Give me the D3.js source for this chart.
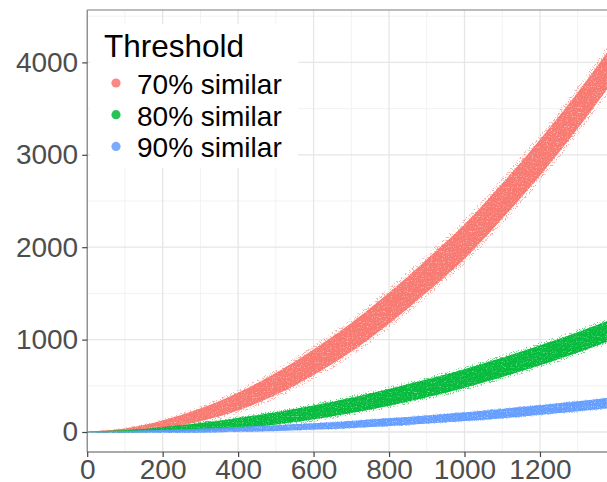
<!DOCTYPE html>
<html>
<head>
<meta charset="utf-8">
<script src="https://cdn.jsdelivr.net/npm/d3@7"></script>
<style>
  html, body { margin: 0; padding: 0; background: #fff; }
  svg { display: block; font-family: "Liberation Sans", Arial, Helvetica, sans-serif; }
</style>
</head>
<body>
<svg id="chart" width="607" height="482"></svg>
<script>
// ---- data ----
const seriesNames = ["70% similar", "80% similar", "90% similar"];
const seriesColors = ["#F8766D", "#00BA38", "#619CFF"];
const sampleX = [0, 100, 200, 300, 400, 500, 600, 700, 800, 900, 1000, 1100, 1200, 1300, 1400];
// centre of each point cloud
const center70 = [0, 20, 82, 185, 330, 520, 755, 1025, 1340, 1690, 2060, 2500, 2970, 3480, 4030];
const center80 = [0, 6, 25, 55, 96, 148, 212, 288, 375, 472, 580, 700, 830, 970, 1120];
const center90 = [0, 2, 7, 15, 27, 42, 60, 82, 107, 135, 165, 200, 238, 278, 322];
// vertical half-spread of the dense core of each cloud
const spread70 = [4, 18, 42, 68, 95, 118, 138, 155, 168, 178, 185, 190, 193, 195, 197];
const spread80 = [3, 12, 26, 42, 56, 66, 75, 83, 90, 96, 100, 104, 107, 110, 113];
const spread90 = [2, 8, 14, 20, 25, 30, 34, 38, 41, 44, 47, 50, 52, 54, 56];
// scattered outliers reach about this far from the centre
const outer70 = [6, 28, 60, 95, 130, 160, 185, 205, 222, 235, 245, 252, 258, 262, 265];
const outer80 = [4, 18, 36, 56, 74, 88, 100, 110, 118, 125, 130, 135, 139, 142, 145];
const outer90 = [3, 10, 18, 25, 31, 37, 42, 46, 50, 54, 57, 60, 63, 65, 67];
const xTicks = [0, 200, 400, 600, 800, 1000, 1200];
const xMinor = [100, 300, 500, 700, 900, 1100, 1300];
const yTicks = [0, 1000, 2000, 3000, 4000];
const yMinor = [500, 1500, 2500, 3500, 4500];
const legendTitle = "Threshold";

const centers = [center70, center80, center90];
const spreads = [spread70, spread80, spread90];
const outers = [outer70, outer80, outer90];

// ---- layout ----
const svg = d3.select("#chart");
const panel = { left: 87.2, top: 10, bottom: 452, right: 640 };
const x = d3.scaleLinear().domain([0, 1400]).range([87.2, 87.2 + 7 * 75.46]);
const y = d3.scaleLinear().domain([0, 4000]).range([432, 432 - 4 * 92.4]);

const defs = svg.append("defs");
defs.append("clipPath").attr("id", "clip")
  .append("rect")
  .attr("x", panel.left).attr("y", panel.top)
  .attr("width", panel.right - panel.left).attr("height", panel.bottom - panel.top);

function speckle(id, seed, freq, slope, offset) {
  const f = defs.append("filter").attr("id", id)
    .attr("filterUnits", "userSpaceOnUse")
    .attr("x", 0).attr("y", 0).attr("width", 607).attr("height", 482);
  f.append("feTurbulence").attr("type", "fractalNoise").attr("baseFrequency", freq)
    .attr("numOctaves", 1).attr("seed", seed).attr("result", "noise");
  f.append("feColorMatrix").attr("in", "noise").attr("type", "matrix")
    .attr("values", `0 0 0 0 0  0 0 0 0 0  0 0 0 0 0  ${slope} 0 0 0 ${offset}`).attr("result", "mask");
  f.append("feComposite").attr("in", "SourceGraphic").attr("in2", "mask").attr("operator", "in");
}
speckle("speckleOuter", 7, 0.75, 14, -7.6);
speckle("speckleCore", 11, 0.8, 6, -1.6);

// panel background
svg.append("rect").attr("x", panel.left).attr("y", panel.top)
  .attr("width", panel.right - panel.left).attr("height", panel.bottom - panel.top)
  .attr("fill", "#fff");

// grid
const grid = svg.append("g").attr("clip-path", "url(#clip)");
grid.selectAll(".xmin").data(xMinor).join("line")
  .attr("x1", d => x(d)).attr("x2", d => x(d))
  .attr("y1", panel.top).attr("y2", panel.bottom)
  .attr("stroke", "#f2f2f2").attr("stroke-width", 1);
grid.selectAll(".ymin").data(yMinor).join("line")
  .attr("y1", d => y(d)).attr("y2", d => y(d))
  .attr("x1", panel.left).attr("x2", panel.right)
  .attr("stroke", "#f2f2f2").attr("stroke-width", 1);
grid.selectAll(".xmaj").data(xTicks).join("line")
  .attr("x1", d => x(d)).attr("x2", d => x(d))
  .attr("y1", panel.top).attr("y2", panel.bottom)
  .attr("stroke", "#e6e6e6").attr("stroke-width", 1.3);
grid.selectAll(".ymaj").data(yTicks).join("line")
  .attr("y1", d => y(d)).attr("y2", d => y(d))
  .attr("x1", panel.left).attr("x2", panel.right)
  .attr("stroke", "#e6e6e6").attr("stroke-width", 1.3);

// point clouds
const plot = svg.append("g").attr("clip-path", "url(#clip)");
seriesNames.forEach((name, i) => {
  const rows = sampleX.map((xv, j) => ({ x: xv, c: centers[i][j], s: spreads[i][j], o: outers[i][j] }));
  const outerArea = d3.area().curve(d3.curveMonotoneX)
    .x(d => x(d.x)).y0(d => y(d.c - d.o)).y1(d => y(d.c + d.o));
  const coreArea = d3.area().curve(d3.curveMonotoneX)
    .x(d => x(d.x)).y0(d => y(d.c - d.s)).y1(d => y(d.c + d.s));
  const g = plot.append("g");
  g.append("path").datum(rows).attr("d", outerArea)
    .attr("fill", seriesColors[i]).attr("opacity", 0.6).attr("filter", "url(#speckleOuter)");
  g.append("path").datum(rows).attr("d", coreArea)
    .attr("fill", seriesColors[i]).attr("opacity", i === 0 ? 0.55 : 0.6);
  g.append("path").datum(rows).attr("d", coreArea)
    .attr("fill", seriesColors[i]).attr("opacity", 0.9).attr("filter", "url(#speckleCore)");
});

// panel border
svg.append("line").attr("x1", panel.left).attr("x2", panel.left)
  .attr("y1", panel.top).attr("y2", panel.bottom).attr("stroke", "#7a7a7a").attr("stroke-width", 1.2);
svg.append("line").attr("x1", panel.left).attr("x2", panel.right)
  .attr("y1", panel.top).attr("y2", panel.top).attr("stroke", "#7a7a7a").attr("stroke-width", 1.2);
svg.append("line").attr("x1", panel.left).attr("x2", panel.right)
  .attr("y1", panel.bottom).attr("y2", panel.bottom).attr("stroke", "#555").attr("stroke-width", 1.2);

// axes
const xAxis = d3.axisBottom(x).tickValues(xTicks).tickSize(5).tickPadding(2).tickFormat(d3.format("d"));
const gx = svg.append("g").attr("transform", `translate(0,${panel.bottom})`).call(xAxis);
gx.select(".domain").remove();
gx.selectAll("line").attr("stroke", "#444").attr("stroke-width", 1.2);
gx.selectAll("text").attr("fill", "#4d4d4d").attr("font-size", 28)
  .attr("font-family", "Liberation Sans, Arial, sans-serif");

const yAxis = d3.axisLeft(y).tickValues(yTicks).tickSize(5).tickPadding(4).tickFormat(d3.format("d"));
const gy = svg.append("g").attr("transform", `translate(${panel.left},0)`).call(yAxis);
gy.select(".domain").remove();
gy.selectAll("line").attr("stroke", "#444").attr("stroke-width", 1.2);
gy.selectAll("text").attr("fill", "#4d4d4d").attr("font-size", 28)
  .attr("font-family", "Liberation Sans, Arial, sans-serif");

// legend
const lg = svg.append("g");
lg.append("rect").attr("x", 90).attr("y", 24).attr("width", 208).attr("height", 144).attr("fill", "#fff");
lg.append("text").attr("x", 104).attr("y", 57).attr("font-size", 31.5).attr("fill", "#000").text(legendTitle);
seriesNames.forEach((name, i) => {
  const cy = 83 + i * 31.7;
  lg.append("circle").attr("cx", 116).attr("cy", cy).attr("r", 4.6)
    .attr("fill", seriesColors[i]).attr("opacity", 0.85);
  lg.append("text").attr("x", 137).attr("y", cy + 11).attr("font-size", 28).attr("fill", "#000").text(name);
});
</script>
</body>
</html>
